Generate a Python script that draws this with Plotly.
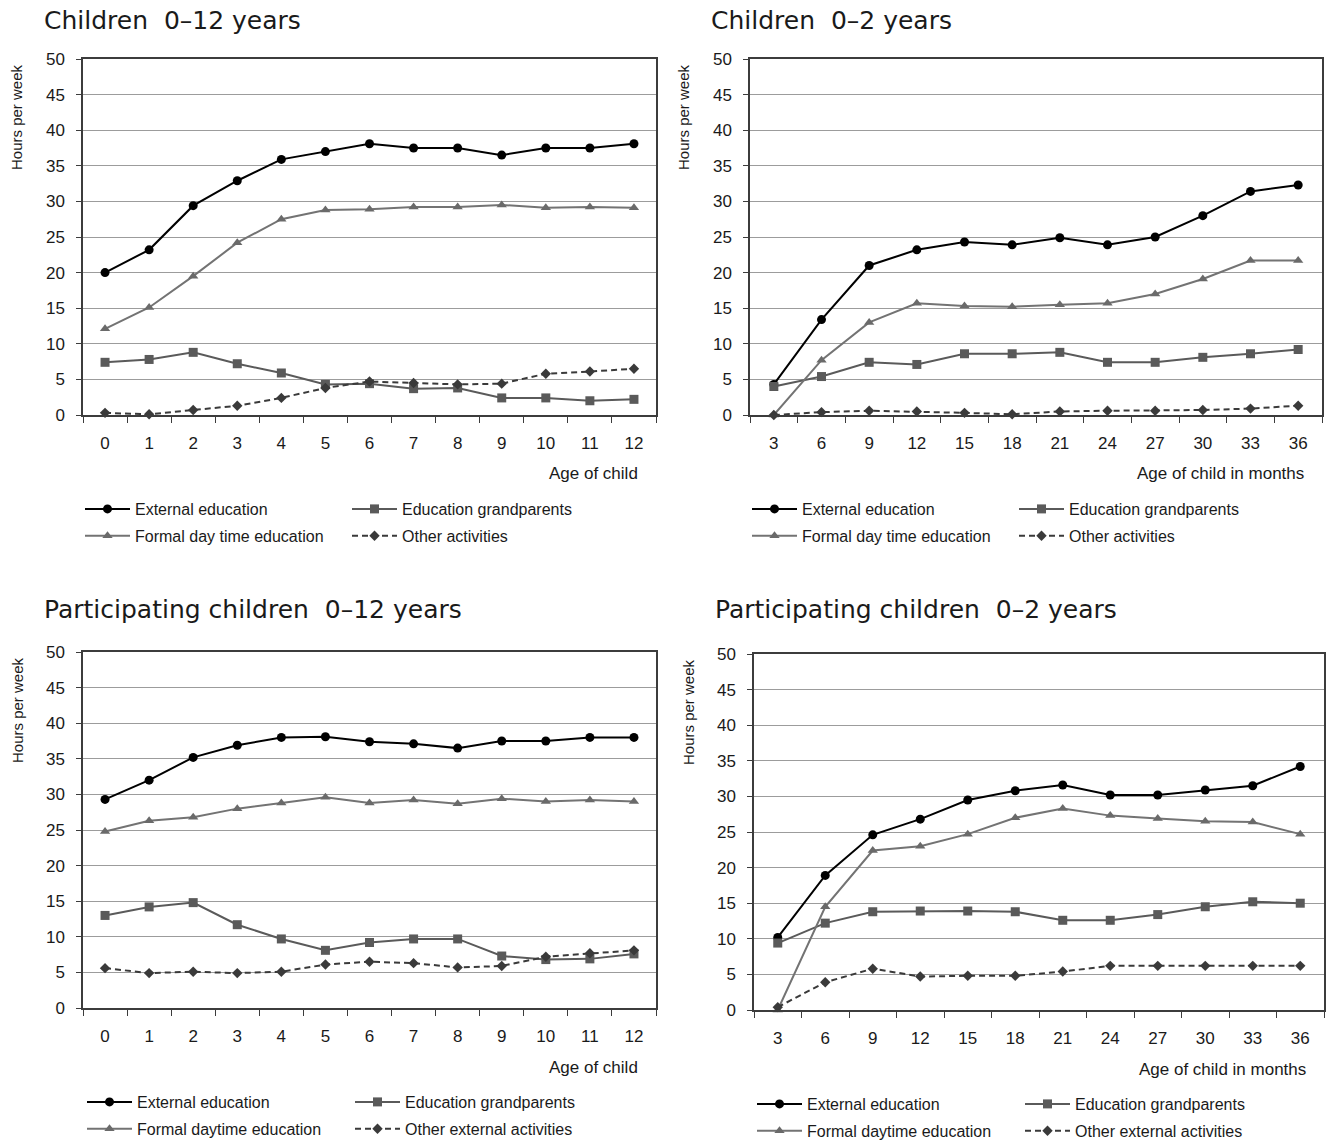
import plotly.graph_objects as go

# ---- categories -------------------------------------------------------------
age_years = ["0", "1", "2", "3", "4", "5", "6", "7", "8", "9", "10", "11", "12"]
age_months = ["3", "6", "9", "12", "15", "18", "21", "24", "27", "30", "33", "36"]

# ---- Children 0-12 years (hours per week) ------------------------------------
p1_external = [20.0, 23.2, 29.4, 32.9, 35.9, 37.0, 38.1, 37.5, 37.5, 36.5, 37.5, 37.5, 38.1]
p1_grand = [7.4, 7.8, 8.8, 7.2, 5.9, 4.3, 4.4, 3.7, 3.8, 2.4, 2.4, 2.0, 2.2]
p1_formal = [12.1, 15.1, 19.5, 24.2, 27.5, 28.8, 28.9, 29.2, 29.2, 29.5, 29.1, 29.2, 29.1]
p1_other = [0.3, 0.1, 0.7, 1.3, 2.4, 3.8, 4.7, 4.5, 4.3, 4.4, 5.8, 6.1, 6.5]

# ---- Children 0-2 years ------------------------------------------------------
p2_external = [4.3, 13.4, 21.0, 23.2, 24.3, 23.9, 24.9, 23.9, 25.0, 28.0, 31.4, 32.3]
p2_grand = [4.0, 5.4, 7.4, 7.1, 8.6, 8.6, 8.8, 7.4, 7.4, 8.1, 8.6, 9.2]
p2_formal = [0.0, 7.7, 13.0, 15.7, 15.3, 15.2, 15.5, 15.7, 17.0, 19.1, 21.7, 21.7]
p2_other = [0.0, 0.4, 0.6, 0.5, 0.3, 0.1, 0.5, 0.6, 0.6, 0.7, 0.9, 1.3]

# ---- Participating children 0-12 years ---------------------------------------
p3_external = [29.3, 32.0, 35.2, 36.9, 38.0, 38.1, 37.4, 37.1, 36.5, 37.5, 37.5, 38.0, 38.0]
p3_grand = [13.0, 14.2, 14.8, 11.7, 9.7, 8.1, 9.2, 9.7, 9.7, 7.3, 6.8, 6.9, 7.6]
p3_formal = [24.8, 26.3, 26.8, 28.0, 28.8, 29.6, 28.8, 29.2, 28.7, 29.4, 29.0, 29.2, 29.0]
p3_other = [5.6, 4.9, 5.1, 4.9, 5.1, 6.1, 6.5, 6.3, 5.7, 5.9, 7.2, 7.7, 8.1]

# ---- Participating children 0-2 years ----------------------------------------
p4_external = [10.2, 18.9, 24.6, 26.8, 29.5, 30.8, 31.6, 30.2, 30.2, 30.9, 31.5, 34.2]
p4_grand = [9.4, 12.2, 13.8, 13.9, 13.9, 13.8, 12.6, 12.6, 13.4, 14.5, 15.2, 15.0]
p4_formal = [0.0, 14.5, 22.4, 23.0, 24.7, 27.0, 28.3, 27.3, 26.9, 26.5, 26.4, 24.7]
p4_other = [0.4, 3.9, 5.8, 4.7, 4.8, 4.8, 5.4, 6.2, 6.2, 6.2, 6.2, 6.2]

titles = ["Children  0\u201312 years", "Children  0\u20132 years",
          "Participating children  0\u201312 years", "Participating children  0\u20132 years"]
x_titles = ["Age of child", "Age of child in months", "Age of child", "Age of child in months"]
names_a = ["External education", "Education grandparents", "Formal day time education", "Other activities"]
names_b = ["External education", "Education grandparents", "Formal daytime education", "Other external activities"]

W, H = 1330, 1140
NARROW = "Liberation Sans Narrow, Arial Narrow, Liberation Sans, sans-serif"
TITLE_FONT = "DejaVu Sans, Verdana, sans-serif"
INK = "#1a1a1a"
FRAME = "#3c3c3c"


def px_x(v):
    return v / W


def px_y(v):
    return 1 - v / H


# plot boxes in pixels: (left, right, top, bottom)
boxes = [(83, 656, 59, 415), (750, 1322, 59, 415),
         (83, 656, 652, 1008), (754, 1324, 654, 1010)]
title_y = [21, 21, 609, 609]

panels = [
    (age_years, [p1_external, p1_grand, p1_formal, p1_other], names_a),
    (age_months, [p2_external, p2_grand, p2_formal, p2_other], names_a),
    (age_years, [p3_external, p3_grand, p3_formal, p3_other], names_b),
    (age_months, [p4_external, p4_grand, p4_formal, p4_other], names_b),
]

styles = [
    dict(line=dict(color="#000000", width=2), marker=dict(symbol="circle", size=9, color="#000000")),
    dict(line=dict(color="#5a5a5a", width=2), marker=dict(symbol="square", size=9, color="#5a5a5a")),
    dict(line=dict(color="#737373", width=2), marker=dict(symbol="triangle-up", size=9, color="#6a6a6a")),
    dict(line=dict(color="#3a3a3a", width=2, dash="6px,4px"),
         marker=dict(symbol="diamond", size=8, color="#3a3a3a")),
]

# legend column starts (line start x) and first-row centre y per panel
legend_spots = [((85, 352), 511), ((752, 1019), 511), ((87, 355), 1104), ((757, 1025), 1106)]

fig = go.Figure()
layout = dict(width=W, height=H, margin=dict(l=0, r=0, t=0, b=0, autoexpand=False),
              paper_bgcolor="white", plot_bgcolor="white", showlegend=True,
              annotations=[])

for i, ((cats, series, names), (l, r, t, b)) in enumerate(zip(panels, boxes)):
    n = i + 1
    xa = "x" if n == 1 else f"x{n}"
    ya = "y" if n == 1 else f"y{n}"
    col_legends = [f"legend{2 * i + 1}" if i else "legend", f"legend{2 * i + 2}"]
    for k, (vals, name, st) in enumerate(zip(series, names, styles)):
        # columns: External / Formal on the left, Grandparents / Other on the right
        leg = col_legends[k % 2]
        fig.add_trace(go.Scatter(
            x=cats, y=vals, name=name, mode="lines+markers",
            xaxis=xa, yaxis=ya, legend=leg, legendgroup=f"g{i}_{k}",
            line=st["line"], marker=st["marker"], cliponaxis=False,
            hoverinfo="skip"))

    axis_x = dict(domain=[px_x(l), px_x(r)], type="category", anchor=ya,
                  range=[-0.5, len(cats) - 0.5], autorange=False,
                  tickson="boundaries", ticks="outside", ticklen=6, tickcolor=FRAME,
                  showline=True, mirror=True, linecolor=FRAME, linewidth=1.5,
                  showgrid=False, ticklabelstandoff=12,
                  tickfont=dict(family=NARROW, size=17, color=INK))
    axis_y = dict(domain=[px_y(b), px_y(t)], range=[0, 50], dtick=5, anchor=xa,
                  ticks="outside", ticklen=5, tickcolor=FRAME,
                  showline=True, mirror=True, linecolor=FRAME, linewidth=1.5,
                  showgrid=True, gridcolor="#9c9c9c", gridwidth=1, zeroline=False,
                  ticklabelstandoff=8,
                  tickfont=dict(family=NARROW, size=17, color=INK))
    layout["xaxis" if n == 1 else f"xaxis{n}"] = axis_x
    layout["yaxis" if n == 1 else f"yaxis{n}"] = axis_y

    # panel title
    layout["annotations"].append(dict(
        text=titles[i], xref="paper", yref="paper", x=px_x(l - 41), y=px_y(title_y[i]),
        xanchor="left", yanchor="middle", showarrow=False,
        font=dict(family=TITLE_FONT, size=25, color=INK)))
    # y-axis label placed near the top of the axis
    layout["annotations"].append(dict(
        text="Hours per week", xref="paper", yref="paper", x=px_x(l - 66), y=px_y(t + 58),
        xanchor="center", yanchor="middle", textangle=-90, showarrow=False,
        font=dict(family=NARROW, size=15, color=INK)))
    # x-axis label, right aligned under the last categories
    layout["annotations"].append(dict(
        text=x_titles[i], xref="paper", yref="paper", x=px_x(r - 16), y=px_y(b + 59),
        xanchor="right", yanchor="middle", showarrow=False,
        font=dict(family=NARROW, size=17, color=INK)))

    (lx1, lx2), ly = legend_spots[i]
    for lg, lx in zip(col_legends, (lx1, lx2)):
        layout[lg] = dict(x=px_x(lx - 5), y=px_y(ly - 19), xanchor="left", yanchor="top",
                          orientation="v", traceorder="grouped", tracegroupgap=3,
                          itemwidth=45, bgcolor="rgba(0,0,0,0)",
                          font=dict(family=NARROW, size=16, color=INK))

fig.update_layout(**layout)
fig.write_html("out.html")
